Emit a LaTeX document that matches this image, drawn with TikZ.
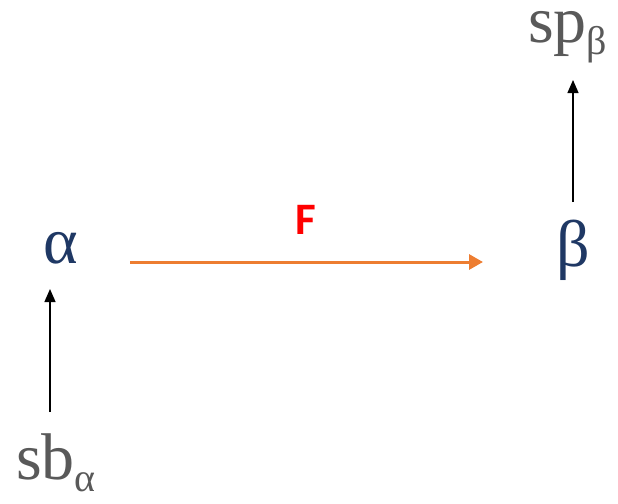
\documentclass[tikz,border=0pt]{standalone}
\usepackage{fontspec}
\setmainfont{Liberation Serif}
\newfontfamily\labfont{Carlito}
\usetikzlibrary{arrows.meta}
\definecolor{greekblue}{HTML}{1F3864}
\definecolor{greytxt}{HTML}{595959}
\definecolor{orangeline}{HTML}{ED7D31}
\newcommand{\lowsub}[1]{\raisebox{-12pt}{\fontsize{40}{40}\selectfont #1}}
\tikzset{
  greek/.style={text=greekblue, font=\fontsize{66}{66}\selectfont, inner sep=0pt, anchor=base},
  setlab/.style={text=greytxt, font=\fontsize{66}{66}\selectfont, inner sep=0pt, anchor=base west, text height=34pt},
  thinarrow/.style={draw=black, line width=1.3pt, -{Triangle[width=11pt,length=13pt]}},
  maparrow/.style={draw=orangeline, line width=3pt, -{Triangle[width=15pt,length=14pt]}},
  flabel/.style={text=red, font=\labfont\bfseries\fontsize{45}{45}\selectfont, inner sep=0pt, anchor=base}
}
\begin{document}
\begin{tikzpicture}[x=1pt,y=-1pt]
\useasboundingbox (0,0) rectangle (618,503);
\node[greek] (alpha) at (61,263) {α};
\node[greek] (beta) at (573,266) {β};
\node[setlab] (sb) at (16,479) {sb\lowsub{α}};
\node[setlab] (sp) at (528,43) {sp\lowsub{β}};
\node[flabel] (F) at (306,234) {F};
\coordinate (sbtop) at (50,412);
\coordinate (alphabot) at (50,289);
\coordinate (betatop) at (573,202);
\coordinate (spbot) at (573,80);
\coordinate (mapstart) at (130,262);
\coordinate (mapend) at (483,262);
\draw[thinarrow] (sbtop) -- (alphabot);
\draw[thinarrow] (betatop) -- (spbot);
\draw[maparrow] (mapstart) -- (mapend);
\end{tikzpicture}
\end{document}
